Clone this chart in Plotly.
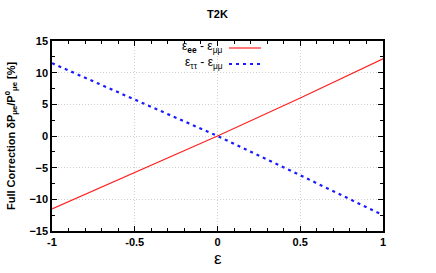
import plotly.graph_objects as go

eps = [-1, -0.5, 0, 0.5, 1]
ee_mumu = [-11.5, -5.8, 0.0, 6.0, 12.2]
tautau_mumu = [11.5, 5.8, 0.0, -6.2, -12.5]

xticks = [-1, -0.5, 0, 0.5, 1]
xticklabels = ["-1", "-0.5", "0", "0.5", "1"]
yticks = [-15, -10, -5, 0, 5, 10, 15]

font_b = dict(family="Liberation Sans", size=11, color="black", weight="bold")
L, R, T, B = 52, 383, 41, 231
W, H = R - L, B - T
FW, FH = 436, 273

fig = go.Figure()
fig.add_trace(go.Scatter(x=eps, y=ee_mumu, mode="lines",
                         line=dict(color="#ff2020", width=1.2), showlegend=False))
fig.add_trace(go.Scatter(x=eps, y=tautau_mumu, mode="lines",
                         line=dict(color="#1a1aff", width=2.2, dash="3px,4px"), showlegend=False))

axis_common = dict(showline=True, linecolor="black", linewidth=1.5, mirror="ticks",
                   ticks="inside", ticklen=5, tickcolor="black", tickwidth=1,
                   showgrid=True, gridcolor="#d0d0d0", griddash="1px,2px", gridwidth=1,
                   zeroline=False, tickfont=font_b, automargin=False)

fig.update_xaxes(range=[-1, 1], tickvals=xticks, ticktext=xticklabels,
                 minor=dict(dtick=0.1, ticks="inside", ticklen=3, tickcolor="black", showgrid=False),
                 **axis_common)
fig.update_yaxes(range=[-15, 15], tickvals=yticks,
                 minor=dict(dtick=2.5, ticks="inside", ticklen=3, tickcolor="black", showgrid=False),
                 **axis_common)

# axis titles
fig.add_annotation(xref="paper", yref="paper", x=-(L - 11) / W, y=(B - 136) / H,
                   text="Full Correction δP<sub>μe</sub>/P<sup>0</sup><sub>μe</sub> [%]",
                   textangle=-90, showarrow=False, xanchor="center", yanchor="middle",
                   font=dict(family="Liberation Sans", size=11, color="black", weight="bold"))
fig.add_annotation(xref="paper", yref="paper", x=0.5, y=-(258 - B) / H,
                   text="ε", showarrow=False, xanchor="center", yanchor="middle",
                   font=dict(family="Liberation Sans", size=17, color="black"))

# legend drawn manually (text right-aligned, sample to the right)
leg_font = dict(family="Liberation Sans", size=12, color="black")
fig.add_annotation(xref="paper", yref="paper", x=(225 - L) / W, y=(B - 47) / H,
                   text="ε<sub><b>ee</b></sub> - ε<sub>μμ</sub>", showarrow=False,
                   xanchor="right", yanchor="middle", font=leg_font)
fig.add_annotation(xref="paper", yref="paper", x=(225 - L) / W, y=(B - 63) / H,
                   text="ε<sub>ττ</sub> - ε<sub>μμ</sub>", showarrow=False,
                   xanchor="right", yanchor="middle", font=leg_font)
fig.add_shape(type="line", xref="paper", yref="paper", x0=(229 - L) / W, x1=(261 - L) / W,
              y0=(B - 48) / H, y1=(B - 48) / H, line=dict(color="#ff2020", width=1.2))
fig.add_shape(type="line", xref="paper", yref="paper", x0=(229 - L) / W, x1=(261 - L) / W,
              y0=(B - 64) / H, y1=(B - 64) / H, line=dict(color="#1a1aff", width=2.2, dash="3px,4px"))

fig.update_layout(width=FW, height=FH,
                  margin=dict(l=L, r=FW - R, t=T, b=FH - B),
                  paper_bgcolor="white", plot_bgcolor="white",
                  title=dict(text="T2K", x=(L + W / 2) / FW, xanchor="center",
                             y=1 - 14 / FH, yanchor="middle",
                             font=dict(family="Liberation Sans", size=11, color="black", weight="bold")))

fig.write_html("out.html", config={"displayModeBar": False},
               post_script="document.body.style.margin='0';document.body.style.overflow='hidden';")
